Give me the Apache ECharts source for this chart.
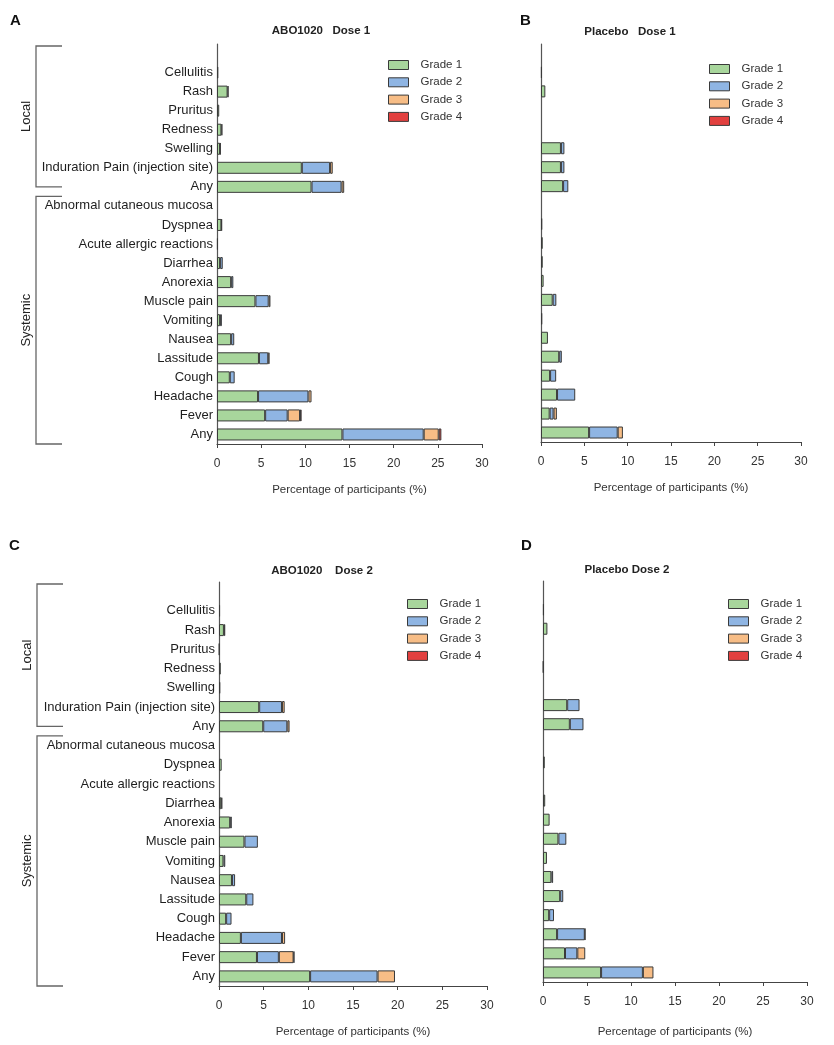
<!DOCTYPE html>
<html>
<head>
<meta charset="utf-8">
<script src="https://cdn.jsdelivr.net/npm/echarts@6/dist/echarts.min.js"></script>
<style>
html,body{margin:0;padding:0;background:#fff;}
#main{width:834px;height:1045px;}
</style>
</head>
<body>
<div id="main"></div>
<script>
// ---------- data ----------
const categories = ['Cellulitis','Rash','Pruritus','Redness','Swelling','Induration Pain (injection site)','Any',
  'Abnormal cutaneous mucosa','Dyspnea','Acute allergic reactions','Diarrhea','Anorexia','Muscle pain','Vomiting',
  'Nausea','Lassitude','Cough','Headache','Fever','Any'];
const grades = ['Grade 1','Grade 2','Grade 3','Grade 4'];
const xTicks = [0,5,10,15,20,25,30];
const groupLabels = ['Local','Systemic'];
const panelTitles = ['ABO1020   Dose 1','Placebo   Dose 1','ABO1020    Dose 2','Placebo Dose 2'];
const panelLetters = ['A','B','C','D'];
const axisTitle = 'Percentage of participants (%)';

// Panel A: ABO1020 Dose 1
const abo1_g1 = [0.15,1.2,0.25,0.5,0.35,9.6,10.7,0,0.5,0.1,0.35,1.6,4.35,0.35,1.6,4.75,1.45,4.65,5.45,14.2];
const abo1_g2 = [0,0.1,0,0.1,0.05,3.2,3.4,0,0.05,0,0.3,0.25,1.5,0.2,0.35,1.05,0.55,5.7,2.55,9.2];
const abo1_g3 = [0,0,0,0,0,0.3,0.3,0,0,0,0,0,0.2,0,0,0.15,0,0.35,1.4,1.7];
const abo1_g4 = [0,0,0,0,0,0,0,0,0,0,0,0,0,0,0,0,0,0,0.18,0.3];
// Panel B: Placebo Dose 1
const pla1_g1 = [0.1,0.5,0,0,2.3,2.3,2.55,0,0.15,0.2,0.2,0.3,1.35,0.15,0.8,2.1,1.05,1.85,1.0,5.55];
const pla1_g2 = [0,0,0,0,0.4,0.4,0.6,0,0,0,0,0,0.42,0,0,0.3,0.7,2.1,0.45,3.3];
const pla1_g3 = [0,0,0,0,0,0,0,0,0,0,0,0,0,0,0,0,0,0,0.38,0.6];
const pla1_g4 = [0,0,0,0,0,0,0,0,0,0,0,0,0,0,0,0,0,0,0,0];
// Panel C: ABO1020 Dose 2
const abo2_g1 = [0.12,0.55,0.05,0.2,0.15,4.5,4.95,0,0.3,0,0.25,1.25,2.85,0.5,1.45,3.05,0.8,2.45,4.25,10.2];
const abo2_g2 = [0,0.15,0,0,0,2.55,2.7,0,0,0,0.12,0.18,1.5,0.2,0.35,0.8,0.6,4.6,2.45,7.55];
const abo2_g3 = [0,0,0,0,0,0.3,0.25,0,0,0,0,0,0,0,0,0,0,0.35,1.65,1.95];
const abo2_g4 = [0,0,0,0,0,0,0,0,0,0,0,0,0,0,0,0,0,0,0.08,0];
// Panel D: Placebo Dose 2
const pla2_g1 = [0.1,0.5,0,0.05,0,2.75,3.05,0,0.2,0,0.25,0.75,1.75,0.45,0.95,1.95,0.7,1.6,2.5,6.6];
const pla2_g2 = [0,0,0,0,0,1.4,1.55,0,0,0,0,0,0.9,0,0.2,0.35,0.55,3.15,1.4,4.75];
const pla2_g3 = [0,0,0,0,0,0,0,0,0,0,0,0,0,0,0,0,0,0.05,0.9,1.2];
const pla2_g4 = [0,0,0,0,0,0,0,0,0,0,0,0,0,0,0,0,0,0,0,0];

// ---------- styles ----------
const FONT = '"Liberation Sans", Arial, sans-serif';
const colors = ['#a8d69c','#8fb5e3','#f7bd86','#e2403f'];
const BORDER = '#3a3a3a';
const panels = [
  {data:[abo1_g1,abo1_g2,abo1_g3,abo1_g4], grid:{left:217,width:265,top:44,height:400}, labels:true,
   legend:{left:388,top:58}, title:{x:316,y:23}, letter:{x:10,y:13}, nameGap:40, bracketX:36},
  {data:[pla1_g1,pla1_g2,pla1_g3,pla1_g4], grid:{left:541,width:260,top:44,height:398}, labels:false,
   legend:{left:709,top:62}, title:{x:625,y:24}, letter:{x:520,y:13}, nameGap:40},
  {data:[abo2_g1,abo2_g2,abo2_g3,abo2_g4], grid:{left:219,width:268,top:582,height:404}, labels:true,
   legend:{left:407,top:597}, title:{x:317,y:563}, letter:{x:9,y:538}, nameGap:40, bracketX:37},
  {data:[pla2_g1,pla2_g2,pla2_g3,pla2_g4], grid:{left:543,width:264,top:581,height:401}, labels:false,
   legend:{left:728,top:597}, title:{x:622,y:562}, letter:{x:521,y:538}, nameGap:44}
];

// axis category keys: a blank spacer at the top, then the categories
const axisKeys = ['sp'].concat(categories.map((c,i)=>'c'+i));
const keyLabel = k => k === 'sp' ? '' : categories[+k.slice(1)];

const option = {
  animation:false,
  backgroundColor:'#fff',
  textStyle:{fontFamily:FONT},
  grid: panels.map(p=>Object.assign({containLabel:false}, p.grid)),
  xAxis: panels.map((p,i)=>({
    type:'value', gridIndex:i, min:xTicks[0], max:xTicks[xTicks.length-1], interval:5,
    name:axisTitle, nameLocation:'middle', nameGap:p.nameGap,
    nameTextStyle:{fontSize:11.5, color:'#333', fontFamily:FONT},
    axisLine:{show:true, lineStyle:{color:'#444', width:1.2}},
    axisTick:{show:true, length:4, lineStyle:{color:'#444'}},
    axisLabel:{fontSize:12, color:'#333', margin:14, fontFamily:FONT},
    splitLine:{show:false}
  })),
  yAxis: panels.map((p,i)=>({
    type:'category', gridIndex:i, inverse:true, data:axisKeys,
    axisLine:{show:true, lineStyle:{color:'#555', width:1.2}},
    axisTick:{show:false},
    axisLabel:{show:p.labels, formatter:keyLabel, fontSize:13, color:'#1e1e1e', margin:4, fontFamily:FONT, interval:0}
  })),
  legend: panels.map(p=>({
    data:grades, orient:'vertical', left:p.legend.left, top:p.legend.top, padding:0,
    itemWidth:20, itemHeight:9, itemGap:3.3, icon:'rect',
    itemStyle:{borderColor:BORDER, borderWidth:1},
    textStyle:{fontSize:11.5, color:'#333', lineHeight:14, fontFamily:FONT, padding:[0,0,0,7]},
    selectedMode:false
  })),
  title: panels.map((p,i)=>({
    text:panelTitles[i], left:p.title.x, top:p.title.y - 3, textAlign:'center',
    textStyle:{fontSize:11.5, fontWeight:'bold', color:'#222', fontFamily:FONT}
  })),
  series: []
};

panels.forEach((p,i)=>{
  grades.forEach((g,k)=>{
    option.series.push({
      type:'bar', name:g, xAxisIndex:i, yAxisIndex:i, stack:'s'+i,
      barWidth:12,
      itemStyle:{color:colors[k], borderColor:BORDER, borderWidth:1},
      data:[null].concat(p.data[k].map(v=> v===0 ? null : v))
    });
  });
});

const chart = echarts.init(document.getElementById('main'), null, {renderer:'canvas'});
chart.setOption(option);

// annotations computed from the axes
const graphics = [];
panels.forEach((p,i)=>{
  graphics.push({type:'text', left:p.letter.x, top:p.letter.y,
    style:{text:panelLetters[i], font:'bold 15px '+FONT, fill:'#111'}});
  if(p.bracketX === undefined) return;
  const y = idx => chart.convertToPixel({yAxisIndex:i}, idx);
  const b = y(2) - y(1);
  const localTop = y(0) - b/2 + 2, localBot = y(7);
  const sysTop = y(7) + b/2, sysBot = y(20) + b/2;
  const x0 = p.bracketX, x1 = x0 + 26;
  const ls = {stroke:'#666', lineWidth:1.3, fill:null};
  [[localTop, localBot],[sysTop, sysBot]].forEach(([t,bt],j)=>{
    graphics.push({type:'polyline', shape:{points:[[x1,t],[x0,t],[x0,bt],[x1,bt]]}, style:ls});
    graphics.push({type:'text', x:x0-10, y:(t+bt)/2, rotation:Math.PI/2,
      style:{text:groupLabels[j], font:'13px '+FONT, fill:'#222', align:'center', verticalAlign:'middle'}});
  });
});
chart.setOption({graphic:graphics});
</script>
</body>
</html>
